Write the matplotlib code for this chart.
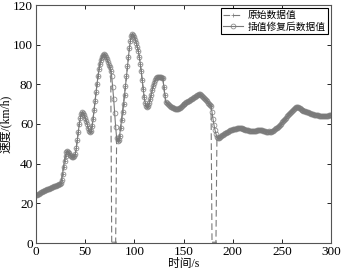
import numpy as np
import matplotlib.pyplot as plt

# speed (km/h) every second, 0..300 s, after interpolation repair
speed_fixed = [
24.0, 24.3, 24.6, 24.9, 25.2, 25.5, 25.7, 26.0, 26.2, 26.5,
26.7, 27.0, 27.2, 27.4, 27.6, 27.9, 28.1, 28.3, 28.5, 28.7,
28.9, 29.1, 29.3, 29.5, 29.8, 30.2, 32.0, 35.0, 38.5, 41.5,
44.0, 45.8, 46.3, 46.0, 45.2, 44.4, 43.8, 43.5, 43.4, 43.8,
45.0, 48.0, 52.0, 56.0, 60.0, 63.0, 65.0, 65.8, 65.5, 64.5,
63.0, 61.5, 60.0, 58.0, 56.5, 55.8, 56.5, 59.0, 62.5, 67.0,
71.5, 76.0, 80.0, 84.0, 87.5, 90.5, 92.5, 94.0, 94.8, 95.2,
95.0, 94.0, 92.8, 91.5, 90.0, 88.5, 86.5, 84.0, 78.5, 72.5,
65.5, 58.5, 53.0, 51.5, 51.8, 54.0, 58.0, 62.0, 66.0, 70.0,
74.5, 79.0, 84.0, 89.0, 94.0, 98.5, 102.0, 104.5, 105.5, 105.0,
104.0, 102.5, 101.0, 99.0, 97.0, 94.0, 90.5, 86.5, 82.0, 77.5,
73.5, 70.5, 69.0, 68.7, 69.2, 70.5, 72.5, 74.8, 77.0, 79.0,
80.8, 82.0, 83.0, 83.5, 83.7, 83.7, 83.6, 83.5, 83.3, 83.0,
78.5, 74.5, 71.0, 70.5, 70.0, 69.6, 69.2, 68.8, 68.5, 68.2,
68.0, 67.8, 67.6, 67.5, 67.6, 67.9, 68.3, 68.7, 69.1, 69.5,
69.9, 70.3, 70.6, 70.9, 71.2, 71.5, 71.8, 72.1, 72.4, 72.8,
73.1, 73.5, 73.8, 74.1, 74.4, 74.7, 75.0, 75.2, 74.8, 74.3,
73.8, 73.2, 72.6, 72.0, 71.4, 70.8, 70.2, 69.6, 69.0, 66.0,
62.5, 59.5, 57.0, 55.0, 53.5, 53.0, 53.1, 53.5, 53.9, 54.3,
54.7, 55.0, 55.3, 55.6, 55.9, 56.2, 56.5, 56.8, 57.0, 57.2,
57.4, 57.5, 57.6, 57.7, 57.8, 57.9, 57.9, 57.9, 57.8, 57.8,
57.7, 57.5, 57.3, 57.1, 57.0, 56.9, 56.8, 56.7, 56.6, 56.5,
56.4, 56.3, 56.3, 56.4, 56.6, 56.8, 57.0, 57.1, 57.1, 57.0,
56.8, 56.6, 56.4, 56.3, 56.2, 56.2, 56.2, 56.3, 56.1, 56.2,
56.4, 56.7, 57.0, 57.4, 57.8, 58.2, 58.7, 59.2, 59.7, 60.2,
60.8, 61.4, 62.0, 62.6, 63.2, 63.8, 64.4, 65.0, 65.6, 66.2,
66.8, 67.3, 67.8, 68.2, 68.5, 68.7, 68.5, 68.2, 67.9, 67.6,
67.3, 67.1, 66.8, 66.6, 66.4, 66.2, 66.0, 65.8, 65.6, 65.4,
65.2, 65.0, 64.9, 64.7, 64.6, 64.5, 64.4, 64.3, 64.2, 64.1,
64.0, 64.0, 63.9, 63.9, 63.9, 64.0, 64.1, 64.2, 64.4, 64.5,
64.6,
]
# seconds where the raw record dropped to zero
gap_seconds = [77, 78, 79, 80, 81, 179, 180, 181, 182, 183]

t = np.arange(len(speed_fixed))
speed_fixed = np.array(speed_fixed)
speed_raw = speed_fixed.copy()
speed_raw[gap_seconds] = 0

plt.rcParams['font.family'] = ['Liberation Serif', 'Noto Sans CJK SC']
gray = '#7a7a7a'

fig = plt.figure(figsize=(3.42, 2.72), dpi=100)
ax = fig.add_axes([36/342, 29/272, 295/342, 238/272])

ax.plot(t, speed_raw, color=gray, ls=(0, (6, 3)), lw=0.8,
        marker='+', ms=3, mew=0.5, label='原始数据值')
ax.plot(t, speed_fixed, color=gray, ls='-', lw=0.8,
        marker='o', ms=3.5, mfc='none', mew=0.5, label='插值修复后数据值')

ax.set_xlim(0, 300)
ax.set_ylim(0, 120)
ax.set_xticks([0, 50, 100, 150, 200, 250, 300])
ax.set_yticks([0, 20, 40, 60, 80, 100, 120])
ax.tick_params(direction='in', top=True, right=True, length=3, width=0.6,
               labelsize=9.5, pad=2)
for s in ax.spines.values():
    s.set_linewidth(0.8)
    s.set_color('#555555')

ax.set_xlabel('时间/s', fontsize=8.5, labelpad=0)
ax.set_ylabel('速度/(km/h)', fontsize=8.5, labelpad=1)

leg = ax.legend(loc='upper right', fancybox=False, framealpha=1,
                edgecolor='black', borderpad=0.25, labelspacing=0.15,
                handlelength=2.0, handletextpad=0.5, borderaxespad=0.3,
                prop={'family': ['Noto Sans CJK SC'], 'size': 7})
leg.get_frame().set_linewidth(0.8)

fig.savefig('out.png', dpi=100)
